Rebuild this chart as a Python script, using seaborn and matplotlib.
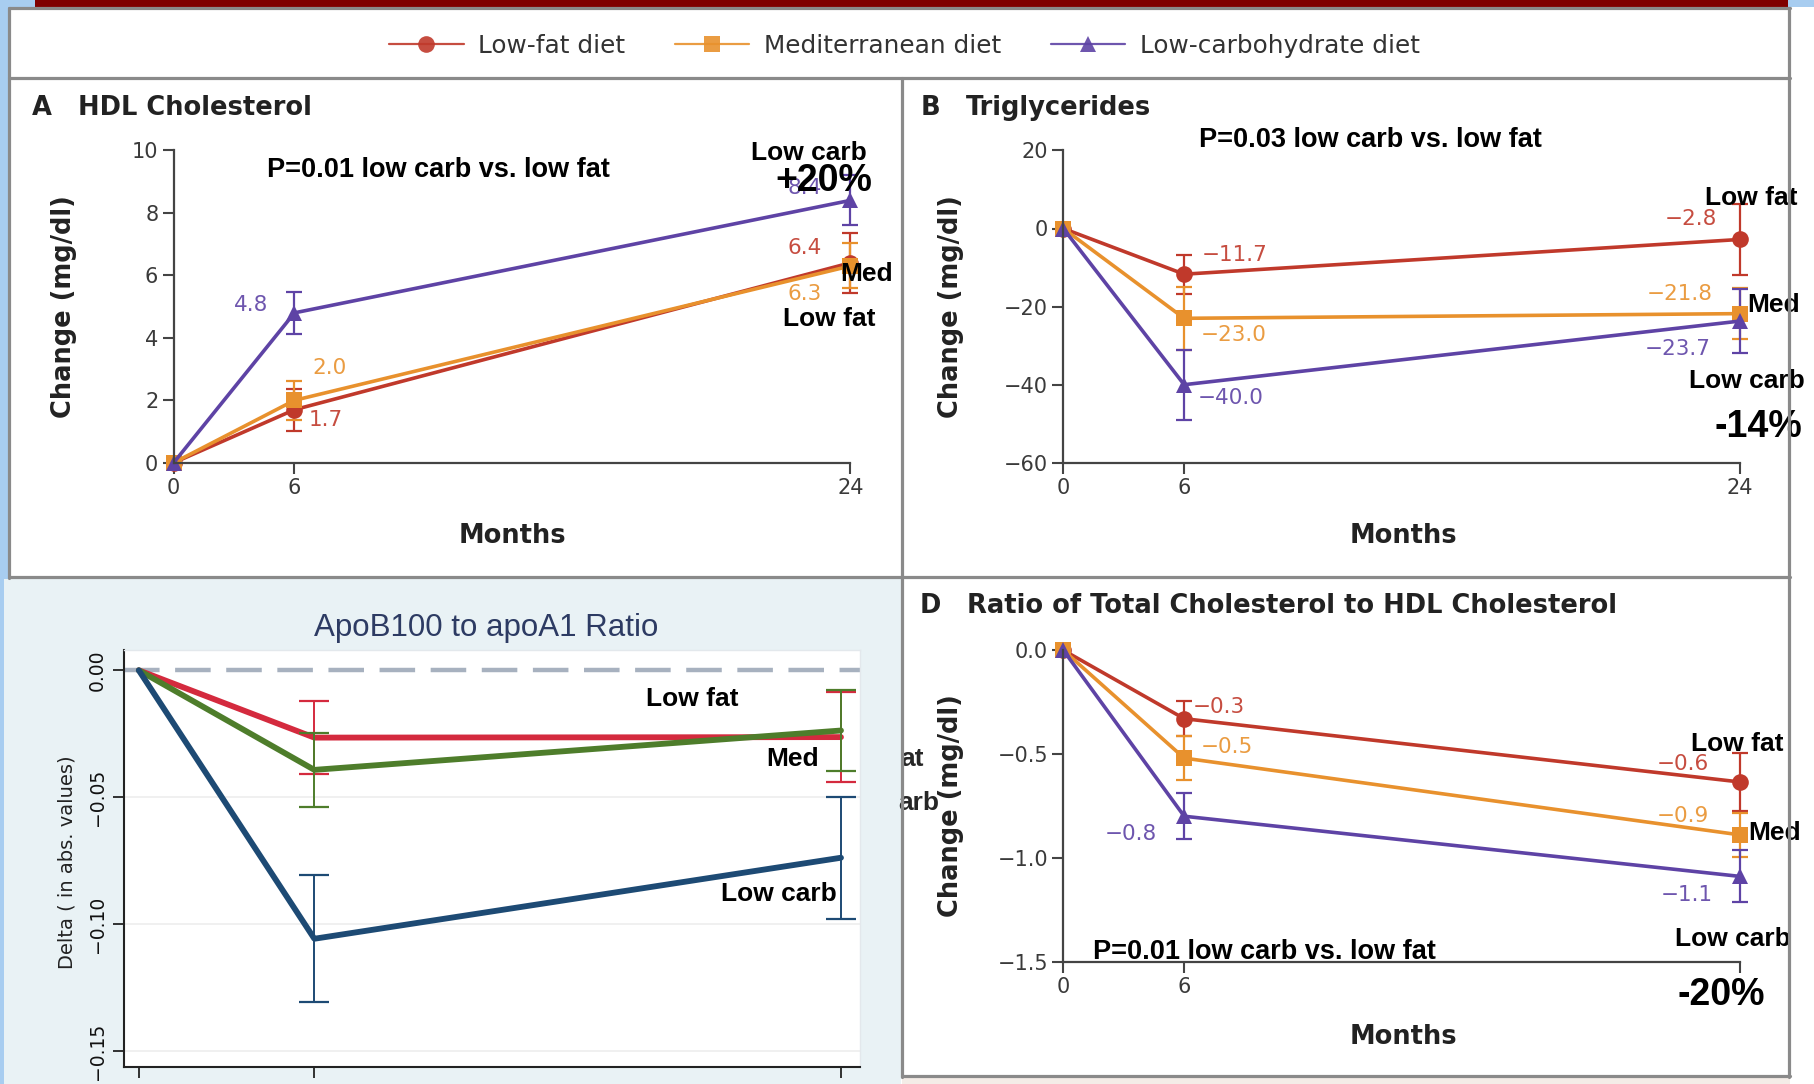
import numpy as np
import pandas as pd
import matplotlib
matplotlib.use("Agg")
import matplotlib.pyplot as plt
import seaborn as sns
from matplotlib import font_manager
from matplotlib.patches import Rectangle
from matplotlib.lines import Line2D

# ---------------- data ----------------
months = [0, 6, 24]
diets = ["Low-fat diet", "Mediterranean diet", "Low-carbohydrate diet"]

hdl_lowfat = [0, 1.7, 6.4]
hdl_med = [0, 2.0, 6.3]
hdl_lowcarb = [0, 4.8, 8.4]
hdl_err_lowfat = [0, 0.67, 0.95]
hdl_err_med = [0, 0.62, 0.72]
hdl_err_lowcarb = [0, 0.67, 0.80]
hdl_lbl_lowfat = ["", "1.7", "6.4"]
hdl_lbl_med = ["", "2.0", "6.3"]
hdl_lbl_lowcarb = ["", "4.8", "8.4"]

tg_lowfat = [0, -11.7, -2.8]
tg_med = [0, -23.0, -21.8]
tg_lowcarb = [0, -40.0, -23.7]
tg_err_lowfat = [0, 5.0, 9.2]
tg_err_med = [0, 8.0, 6.5]
tg_err_lowcarb = [0, 9.0, 8.2]
tg_lbl_lowfat = ["", "\u221211.7", "\u22122.8"]
tg_lbl_med = ["", "\u221223.0", "\u221221.8"]
tg_lbl_lowcarb = ["", "\u221240.0", "\u221223.7"]

ratio_lowfat = [0, -0.33, -0.635]
ratio_med = [0, -0.52, -0.89]
ratio_lowcarb = [0, -0.80, -1.09]
ratio_err_lowfat = [0, 0.085, 0.14]
ratio_err_med = [0, 0.105, 0.105]
ratio_err_lowcarb = [0, 0.11, 0.125]
ratio_lbl_lowfat = ["", "\u22120.3", "\u22120.6"]
ratio_lbl_med = ["", "\u22120.5", "\u22120.9"]
ratio_lbl_lowcarb = ["", "\u22120.8", "\u22121.1"]

apo_lowfat = [0, -0.0265, -0.0263]
apo_med = [0, -0.0392, -0.0237]
apo_lowcarb = [0, -0.1057, -0.0738]
apo_err_lowfat = [0, 0.0145, 0.0177]
apo_err_med = [0, 0.0145, 0.016]
apo_err_lowcarb = [0, 0.025, 0.024]

# ---------------- style ----------------
sns.set_style("ticks")
plt.rcParams["font.family"] = ["DejaVu Sans"]
plt.rcParams["axes.unicode_minus"] = True

names = {f.name for f in font_manager.fontManager.ttflist}
narrow = "Liberation Sans Narrow" if "Liberation Sans Narrow" in names else "Liberation Sans"
ann_font = "Liberation Sans"

RED, ORANGE, PURPLE = "#c0392b", "#e8912d", "#5e43a5"
C_RED, C_GREEN, C_NAVY = "#d42a3e", "#4e7d2b", "#1d4a74"
pal = {diets[0]: RED, diets[1]: ORANGE, diets[2]: PURPLE}
mk = {diets[0]: "o", diets[1]: "s", diets[2]: "^"}

W, H = 1814, 1084
fig = plt.figure(figsize=(W / 100, H / 100), dpi=100, facecolor="white")


def fx(x):
    return x / W


def fy(y):
    return 1 - y / H


def rect(l, t, r, b):
    return [l / W, 1 - b / H, (r - l) / W, (b - t) / H]


def bg(l, t, r, b, color):
    fig.patches.append(Rectangle((fx(l), fy(b)), (r - l) / W, (b - t) / H,
                                 transform=fig.transFigure, facecolor=color,
                                 edgecolor="none", zorder=-10))


def hline(y, x0, x1, color="#8a8a8a", lw=2.3):
    fig.lines.append(Line2D([fx(x0), fx(x1)], [fy(y), fy(y)], transform=fig.transFigure,
                            color=color, lw=lw, zorder=5))


def vline(x, y0, y1, color="#8a8a8a", lw=2.3):
    fig.lines.append(Line2D([fx(x), fx(x)], [fy(y0), fy(y1)], transform=fig.transFigure,
                            color=color, lw=lw, zorder=5))


# backgrounds
bg(0, 0, 9, H, "#a8cdf0")
bg(0, 0, 35, 7, "#a8cdf0")
bg(35, 0, 1788, 7, "#7f0000")
bg(1788, 0, W, 7, "#a8cdf0")
bg(4, 579, 901, H, "#e9f2f5")
bg(902, 1077, 1790, H, "#f4ece7")

# borders
hline(8, 9, 1790)
hline(78, 9, 1790)
hline(577, 9, 1790)
hline(1076, 902, 1790)
vline(9, 8, 578)
vline(1789, 8, 1077)
vline(902, 78, 1077)

# piecewise month scale for panels A, B, D
P6 = 0.1786


def fwd(x):
    x = np.asarray(x, dtype=float)
    return np.where(x <= 6, x * P6 / 6, P6 + (x - 6) * (1 - P6) / 18)


def inv(y):
    y = np.asarray(y, dtype=float)
    return np.where(y <= P6, y * 6 / P6, 6 + (y - P6) * 18 / (1 - P6))


def nejm_panel(ax, series, errs, labels, offsets, ylim, yticks, yticklabels):
    rows = []
    for d, vals in zip(diets, series):
        for m, v in zip(months, vals):
            rows.append({"month": m, "value": v, "diet": d})
    df = pd.DataFrame(rows)
    ax.set_xscale("function", functions=(fwd, inv))
    sns.lineplot(data=df, x="month", y="value", hue="diet", style="diet",
                 palette=pal, markers=mk, dashes=False, linewidth=2.6,
                 markersize=12, markeredgewidth=0, legend=False, ax=ax,
                 sort=False, errorbar=None)
    for line in ax.lines:
        line.set_clip_on(False)
    for d, vals, e, lbls, offs in zip(diets, series, errs, labels, offsets):
        c = pal[d]
        ax.errorbar(months[1:], vals[1:], yerr=e[1:], fmt="none", ecolor=c,
                    elinewidth=1.6, capsize=6, capthick=1.6, clip_on=False, zorder=1)
        for m, v, t, o in zip(months, vals, lbls, offs):
            if t:
                ax.annotate(t, xy=(m, v), xytext=(o[0] * 0.72, o[1] * 0.72),
                            textcoords="offset points", ha="center", va="center",
                            color=c, fontsize=15.5, alpha=0.9)
    ax.set_xlim(0, 24)
    ax.set_ylim(*ylim)
    ax.set_xticks(months)
    ax.set_xticklabels([str(m) for m in months])
    ax.set_yticks(yticks)
    ax.set_yticklabels(yticklabels)
    ax.set_xlabel("")
    ax.set_ylabel("")
    ax.patch.set_alpha(0)
    sns.despine(ax=ax)
    for s in ("left", "bottom"):
        ax.spines[s].set_color("#444444")
        ax.spines[s].set_linewidth(1.6)
    ax.tick_params(direction="out", length=8, width=1.5, color="#444444",
                   labelsize=15, labelcolor="#3a3a3a", pad=3)


# ---------------- Panel A ----------------
axA = fig.add_axes(rect(173.6, 150.4, 850.4, 462.8))
nejm_panel(axA, [hdl_lowfat, hdl_med, hdl_lowcarb],
           [hdl_err_lowfat, hdl_err_med, hdl_err_lowcarb],
           [hdl_lbl_lowfat, hdl_lbl_med, hdl_lbl_lowcarb],
           [[None, (31, -10), (-46, 15)], [None, (35, 32), (-46, -28)],
            [None, (-43, 8), (-46, 12)]],
           (0, 10), [0, 2, 4, 6, 8, 10], ["0", "2", "4", "6", "8", "10"])

# ---------------- Panel B ----------------
axB = fig.add_axes(rect(1063.3, 150.4, 1740.1, 462.8))
nejm_panel(axB, [tg_lowfat, tg_med, tg_lowcarb],
           [tg_err_lowfat, tg_err_med, tg_err_lowcarb],
           [tg_lbl_lowfat, tg_lbl_med, tg_lbl_lowcarb],
           [[None, (50, 19), (-49, 20)], [None, (49, -17), (-60, 20)],
            [None, (46, -13), (-62, -28)]],
           (-60, 20), [-60, -40, -20, 0, 20],
           ["\u221260", "\u221240", "\u221220", "0", "20"])

# ---------------- Panel D ----------------
axD = fig.add_axes(rect(1063.3, 650.2, 1740.1, 961.5))
nejm_panel(axD, [ratio_lowfat, ratio_med, ratio_lowcarb],
           [ratio_err_lowfat, ratio_err_med, ratio_err_lowcarb],
           [ratio_lbl_lowfat, ratio_lbl_med, ratio_lbl_lowcarb],
           [[None, (35, 12), (-57, 18)], [None, (43, 11), (-57, 19)],
            [None, (-53, -18), (-53, -19)]],
           (-1.5, 0), [-1.5, -1.0, -0.5, 0.0],
           ["\u22121.5", "\u22121.0", "\u22120.5", "0.0"])

# ---------------- Panel C ----------------
axC = fig.add_axes(rect(123.8, 650, 860, 1067))
axC.set_facecolor("white")
apo_pal = {diets[0]: C_RED, diets[1]: C_GREEN, diets[2]: C_NAVY}
rows = []
for d, vals in zip(diets, [apo_lowfat, apo_med, apo_lowcarb]):
    for m, v in zip(months, vals):
        rows.append({"month": m, "value": v, "diet": d})
apo_df = pd.DataFrame(rows)
for yv in [-0.05, -0.10, -0.15]:
    axC.axhline(yv, color="#eeeeee", lw=1.2, zorder=0)
axC.axhline(0, color="#a7b1bf", lw=3.2, ls=(0, (8, 3.5)), zorder=1)
sns.lineplot(data=apo_df, x="month", y="value", hue="diet", palette=apo_pal,
             linewidth=4.2, legend=False, ax=axC, sort=False, errorbar=None)
for d, vals, e in zip(diets, [apo_lowfat, apo_med, apo_lowcarb],
                      [apo_err_lowfat, apo_err_med, apo_err_lowcarb]):
    axC.errorbar(months[1:], vals[1:], yerr=e[1:], fmt="none", ecolor=apo_pal[d],
                 elinewidth=1.4, capsize=11, capthick=1.6, zorder=2)
axC.set_xlim(-0.513, 24.65)
axC.set_ylim(-0.1562, 0.008)
axC.set_xticks(months)
axC.set_xticklabels(["", "", ""])
axC.set_yticks([0, -0.05, -0.10, -0.15])
axC.set_yticklabels(["0.00", "\u22120.05", "\u22120.10", "\u22120.15"], rotation=90, va="center")
axC.set_xlabel("")
axC.set_ylabel("")
for s in ("top", "right"):
    axC.spines[s].set_color("#e3e8ec")
    axC.spines[s].set_linewidth(1.0)
for s in ("left", "bottom"):
    axC.spines[s].set_color("#222222")
    axC.spines[s].set_linewidth(1.5)
axC.tick_params(direction="out", length=8, width=1.3, color="#222222",
                labelsize=13.5, labelcolor="#111111", pad=4)

# ---------------- texts ----------------
tkw = dict(fontfamily="DejaVu Sans", fontweight="bold", color="#222222", fontsize=18.5)
# panel titles
fig.text(fx(32), fy(107.6), "A", ha="left", va="center", **tkw)
fig.text(fx(77.5), fy(107.6), "HDL Cholesterol", ha="left", va="center", **tkw)
fig.text(fx(921), fy(107.6), "B", ha="left", va="center", **tkw)
fig.text(fx(966), fy(107.6), "Triglycerides", ha="left", va="center", **tkw)
fig.text(fx(920), fy(606), "D", ha="left", va="center", **tkw)
fig.text(fx(967), fy(606), "Ratio of Total Cholesterol to HDL Cholesterol", ha="left", va="center", **tkw)
# axis labels
for x, y in [(63.6, 306.6), (951, 306.6), (951, 806)]:
    fig.text(fx(x), fy(y), "Change (mg/dl)", rotation=90, ha="center", va="center", **tkw)
for x, y in [(512.5, 535.7), (1403.4, 535.7), (1403.4, 1036.7)]:
    fig.text(fx(x), fy(y), "Months", ha="center", va="center", **tkw)

fig.text(fx(486), fy(628), "ApoB100 to apoA1 Ratio", ha="center", va="center",
         fontfamily=narrow, fontsize=27 if narrow != "Liberation Sans" else 22.5,
         color="#2d3b63")
fig.text(fx(67), fy(862), "Delta ( in abs. values)", rotation=90, ha="center",
         va="center", fontsize=14, color="#222222")

# black annotation labels
akw = dict(fontfamily=ann_font, fontweight="bold", color="black", ha="center", va="center")
ann = [
    (438, 170, "P=0.01 low carb vs. low fat", 19.5),
    (809, 153, "Low carb", 19),
    (824, 181, "+20%", 27),
    (867, 274, "Med", 19),
    (829, 319, "Low fat", 19),
    (1370.5, 140, "P=0.03 low carb vs. low fat", 19.5),
    (1751, 198, "Low fat", 19),
    (1774, 305.5, "Med", 19),
    (1746.5, 380.7, "Low carb", 19),
    (1758.6, 427, "-14%", 27),
    (1264, 952, "P=0.01 low carb vs. low fat", 19.5),
    (1737, 744, "Low fat", 19),
    (1775, 833, "Med", 19),
    (1732.6, 939.5, "Low carb", 19),
    (692, 699, "Low fat", 19),
    (792.5, 759, "Med", 19),
    (778.6, 894, "Low carb", 19),
]
for x, y, t, s in ann:
    fig.text(fx(x), fy(y), t, fontsize=s, **akw)
fig.text(fx(1721), fy(995), "-20%", fontsize=27, zorder=6,
         bbox=dict(facecolor="white", edgecolor="none", pad=1.0), **akw)
fig.text(fx(900), fy(759), "at", fontsize=19, fontfamily=ann_font, fontweight="bold",
         ha="left", va="center")
fig.text(fx(898), fy(803), "arb", fontsize=19, fontfamily=ann_font, fontweight="bold",
         ha="left", va="center")

# legend
handles = [Line2D([], [], color=pal[d], marker=mk[d], lw=1.6, markersize=12,
                  markeredgewidth=0, alpha=0.9) for d in diets]
leg = fig.legend(handles, diets, loc="center", bbox_to_anchor=(fx(904.5), fy(46)),
                 ncol=3, frameon=False, fontsize=17.8, handlelength=3.0,
                 handletextpad=0.6, columnspacing=2.0)
for t in leg.get_texts():
    t.set_color("#333333")

fig.savefig("out.png", dpi=100, facecolor="white")
